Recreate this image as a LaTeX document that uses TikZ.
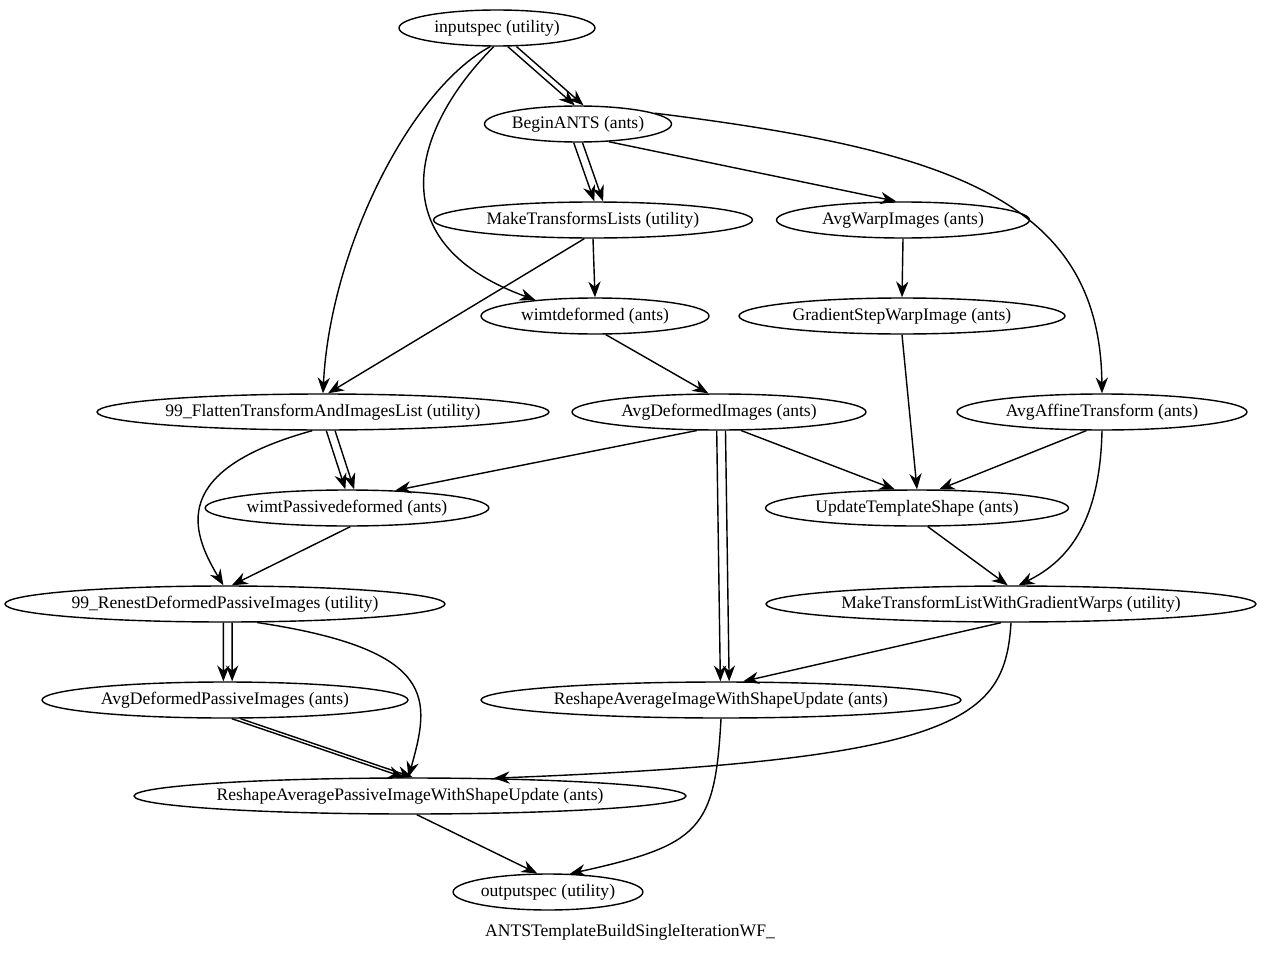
\documentclass[tikz,border=0pt]{standalone}
\usepackage{fontspec}
\setmainfont{Liberation Serif}
\usetikzlibrary{shapes.geometric,arrows.meta}
\begin{document}
\begin{tikzpicture}[x=0.02cm,y=-0.02cm,
  n/.style={ellipse,draw,thick,inner sep=0pt,minimum height=0.72cm,font=\fontsize{10}{12}\selectfont},
  e/.style={draw,thick,-{Stealth[length=9pt,width=7pt]}}]
\useasboundingbox (0,0) rectangle (1261,953);
\node[n,minimum width=3.92cm] (in) at (497,28) {inputspec (utility)};
\node[n,minimum width=3.48cm] (ba) at (578,124) {BeginANTS (ants)};
\node[n,minimum width=6.38cm] (mtl) at (593,220) {MakeTransformsLists (utility)};
\node[n,minimum width=5.06cm] (awi) at (903,220) {AvgWarpImages (ants)};
\node[n,minimum width=4.56cm] (wd) at (595,316) {wimtdeformed (ants)};
\node[n,minimum width=6.52cm] (gs) at (902,316) {GradientStepWarpImage (ants)};
\node[n,minimum width=9.04cm] (fl) at (323,412) {99\_FlattenTransformAndImagesList (utility)};
\node[n,minimum width=5.88cm] (adi) at (719,412) {AvgDeformedImages (ants)};
\node[n,minimum width=5.80cm] (aat) at (1102,412) {AvgAffineTransform (ants)};
\node[n,minimum width=5.44cm] (wpd) at (347,508) {wimtPassivedeformed (ants)};
\node[n,minimum width=6.06cm] (uts) at (917,508) {UpdateTemplateShape (ants)};
\node[n,minimum width=8.80cm] (rn) at (225,604) {99\_RenestDeformedPassiveImages (utility)};
\node[n,minimum width=9.80cm] (mgw) at (1011,604) {MakeTransformListWithGradientWarps (utility)};
\node[n,minimum width=7.32cm] (adp) at (225,700) {AvgDeformedPassiveImages (ants)};
\node[n,minimum width=9.60cm] (rai) at (721,700) {ReshapeAverageImageWithShapeUpdate (ants)};
\node[n,minimum width=11.04cm] (rap) at (410,796) {ReshapeAveragePassiveImageWithShapeUpdate (ants)};
\node[n,minimum width=3.50cm] (out) at (548,892) {outputspec (utility)};
\node[font=\fontsize{10}{12}\selectfont] (lbl) at (630,932) {ANTSTemplateBuildSingleIterationWF\_};
% edges
\path[e] (in.-60) -- (ba.100);
\path[e] ([xshift=5pt]in.-60) -- ([xshift=5pt]ba.100);
\path[e] (in.-110) .. controls (410,90) and (330,250) .. (fl.north);
\path[e] (in.-100) .. controls (420,120) and (370,240) .. (wd.165);
\path[e] (ba.-103) -- (mtl.86);
\path[e] ([xshift=5pt]ba.-103) -- ([xshift=5pt]mtl.86);
\path[e] (ba.-30) -- (awi.110);
\path[e] (ba.8) .. controls (950,150) and (1100,200) .. (aat.north);
\path[e] (mtl.-90) -- (wd.north);
\path[e] (mtl.-115) -- ([xshift=1pt]fl.80);
\path[e] (awi.south) -- (gs.north);
\path[e] (wd.-60) -- (adi.120);
\path[e] (gs.-90) -- (uts.north);
\path[e] (fl.-80) -- (wpd.95);
\path[e] ([xshift=5pt]fl.-80) -- ([xshift=5pt]wpd.95);
\path[e] (fl.-120) .. controls (170,470) and (190,530) .. (rn.95);
\path[e] (adi.-140) -- (wpd.20);
\path[e] (adi.-40) -- (uts.140);
\path[e] (adi.-97) -- (rai.92);
\path[e] ([xshift=5pt]adi.-97) -- ([xshift=5pt]rai.92);
\path[e] (aat.-130) -- (uts.40);
\path[e] (aat.-90) .. controls (1100,520) and (1070,560) .. (mgw.68);
\path[e] (wpd.-80) -- (rn.70);
\path[e] (uts.-60) -- (mgw.100);
\path[e] (rn.-95) -- (adp.95);
\path[e] ([xshift=5pt]rn.-95) -- ([xshift=5pt]adp.95);
\path[e] (rn.-30) .. controls (440,650) and (430,700) .. (rap.95);
\path[e] (mgw.-118) -- (rai.40);
\path[e] (mgw.-90) .. controls (1005,720) and (960,760) .. (rap.12);
\path[e] (adp.-70) -- (rap.108);
\path[e] ([xshift=5pt]adp.-70) -- ([xshift=5pt]rap.108);
\path[e] (rai.-90) .. controls (715,830) and (700,845) .. (out.40);
\path[e] (rap.-70) -- (out.120);
\end{tikzpicture}
\end{document}
